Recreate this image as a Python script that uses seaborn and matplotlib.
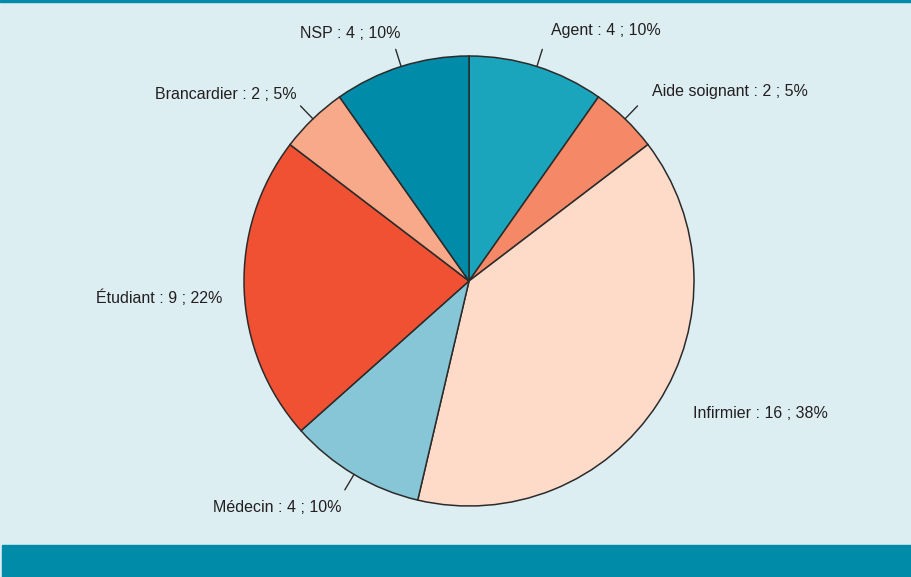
import numpy as np
import seaborn as sns
import matplotlib.pyplot as plt
from matplotlib.patches import Rectangle

# data (clockwise from 12 o'clock)
categories = ["Agent", "Aide soignant", "Infirmier", "Médecin", "Étudiant", "Brancardier", "NSP"]
counts = [4, 2, 16, 4, 9, 2, 4]
percents = [10, 5, 38, 10, 22, 5, 10]
colors = ["#1BA5BD", "#F58866", "#FDDBC8", "#86C6D6", "#F05133", "#F7A98A", "#008BA8"]

bg = "#DDEEF3"
teal = "#008BA8"
R_PX = 225  # pie radius in pixels

# label layout: (radius, x nudge px, y nudge px, leader line)
label_layout = {
    "Infirmier": (1.187, 0, 13, False),
    "Médecin": (1.105, 0, -13, True),
    "Étudiant": (1.098, 0, -7, False),
    "Brancardier": (1.17, 10, -3, True),
    "NSP": (1.17, 11, -3, True),
    "Agent": (1.17, 3, 0, True),
}

sns.set_style("white")
plt.rcParams['font.family'] = ['Liberation Sans', 'DejaVu Sans']

fig = plt.figure(figsize=(9.12, 5.77), dpi=100, facecolor=bg)
ax = fig.add_axes([0, 0, 1, 1])
ax.set_facecolor(bg)

wedges, _ = ax.pie(counts, colors=sns.color_palette(colors), startangle=90, counterclock=False,
                   wedgeprops={'edgecolor': '#2b2b2b', 'linewidth': 1.1})

for w, cat, n, p in zip(wedges, categories, counts, percents):
    ang = np.deg2rad((w.theta1 + w.theta2) / 2)
    c, s = np.cos(ang), np.sin(ang)
    r, dx, dy, leader = label_layout.get(cat, (1.17, 0, 0, True))
    if leader:
        ax.plot([c * 1.0, c * 1.08], [s * 1.0, s * 1.08], color='#2b2b2b', lw=1)
    ha = 'left' if c > 0 else 'right'
    ax.text(c * r + dx / R_PX, s * r + dy / R_PX, f"{cat} : {n} ; {p}%", ha=ha, va='center',
            fontsize=11.5, color='#231f20')

# pixel mapping: center (469, 281), radius 225 px
ax.set_xlim(-469 / R_PX, (912 - 469) / R_PX)
ax.set_ylim(-(577 - 281) / R_PX, 281 / R_PX)
ax.set_aspect('auto')
ax.axis('off')

fig.patches.append(Rectangle((2 / 912, 0), 1, 32 / 577, transform=fig.transFigure,
                             color=teal, zorder=0))
fig.patches.append(Rectangle((0, 1 - 2 / 577), 1, 2 / 577, transform=fig.transFigure,
                             color=teal, zorder=0))

plt.savefig("out.png", dpi=100, facecolor=bg)
